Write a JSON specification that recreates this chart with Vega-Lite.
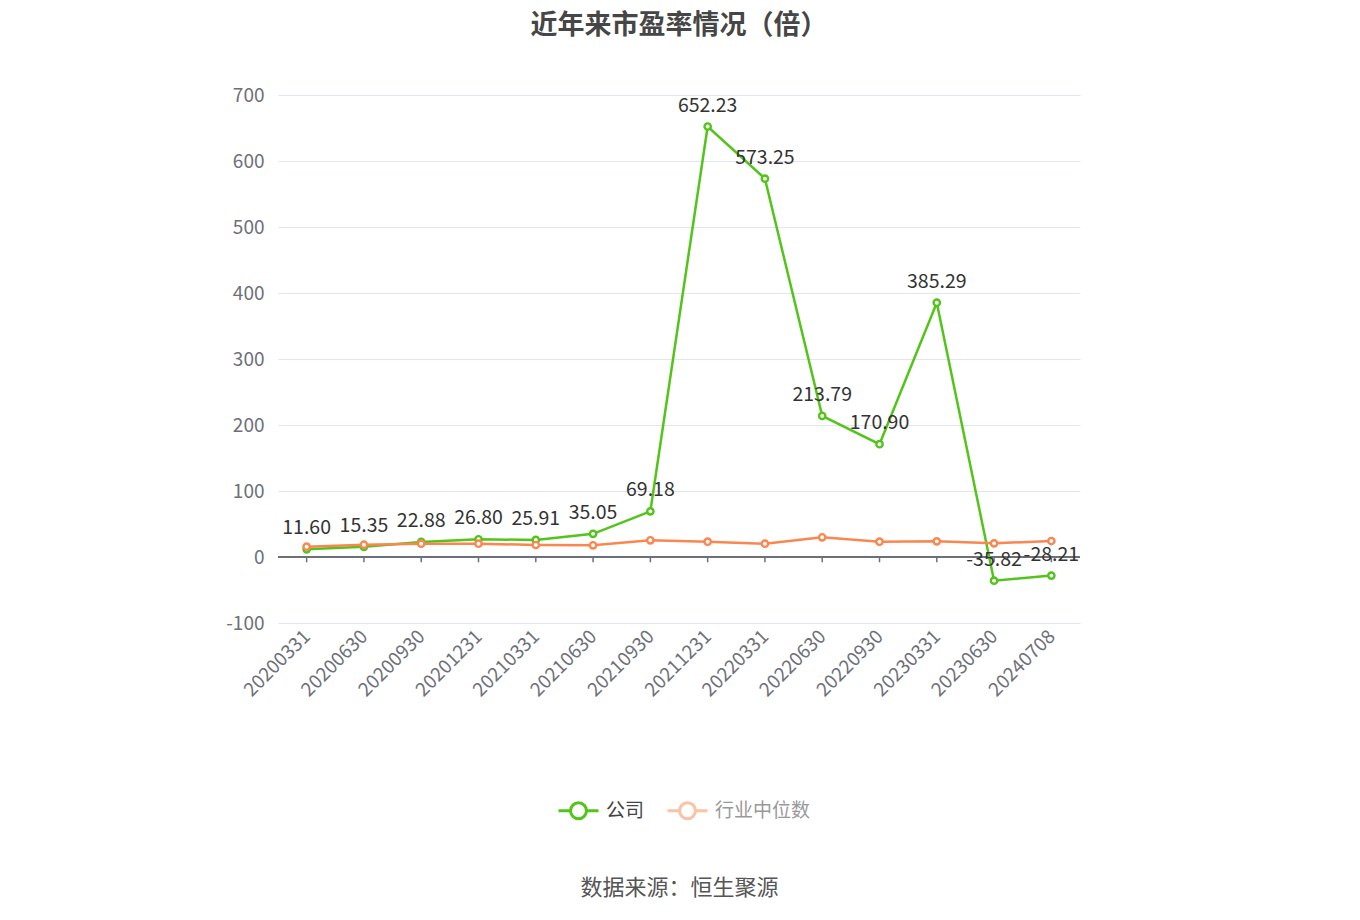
{
  "$schema": "https://vega.github.io/schema/vega-lite/v6.json",
  "autosize": {"type": "none"},
  "width": 802,
  "height": 528,
  "padding": {"left": 278, "top": 95, "right": 280, "bottom": 297},
  "background": "white",
  "title": {
    "text": "近年来市盈率情况（倍）",
    "fontSize": 27,
    "fontWeight": "bold",
    "color": "#464646",
    "font": "Noto Sans CJK SC",
    "anchor": "middle",
    "offset": 46
  },
  "data": {
    "values": [
      {"date": "20200331", "series": "公司", "value": 11.60},
      {"date": "20200630", "series": "公司", "value": 15.35},
      {"date": "20200930", "series": "公司", "value": 22.88},
      {"date": "20201231", "series": "公司", "value": 26.80},
      {"date": "20210331", "series": "公司", "value": 25.91},
      {"date": "20210630", "series": "公司", "value": 35.05},
      {"date": "20210930", "series": "公司", "value": 69.18},
      {"date": "20211231", "series": "公司", "value": 652.23},
      {"date": "20220331", "series": "公司", "value": 573.25},
      {"date": "20220630", "series": "公司", "value": 213.79},
      {"date": "20220930", "series": "公司", "value": 170.90},
      {"date": "20230331", "series": "公司", "value": 385.29},
      {"date": "20230630", "series": "公司", "value": -35.82},
      {"date": "20240708", "series": "公司", "value": -28.21},
      {"date": "20200331", "series": "行业中位数", "value": 15.6},
      {"date": "20200630", "series": "行业中位数", "value": 18.6},
      {"date": "20200930", "series": "行业中位数", "value": 20.2},
      {"date": "20201231", "series": "行业中位数", "value": 20.2},
      {"date": "20210331", "series": "行业中位数", "value": 18.2},
      {"date": "20210630", "series": "行业中位数", "value": 17.7},
      {"date": "20210930", "series": "行业中位数", "value": 25.3},
      {"date": "20211231", "series": "行业中位数", "value": 23.2},
      {"date": "20220331", "series": "行业中位数", "value": 20.2},
      {"date": "20220630", "series": "行业中位数", "value": 29.8},
      {"date": "20220930", "series": "行业中位数", "value": 23.2},
      {"date": "20230331", "series": "行业中位数", "value": 23.7},
      {"date": "20230630", "series": "行业中位数", "value": 20.7},
      {"date": "20240708", "series": "行业中位数", "value": 24.2}
    ]
  },
  "encoding": {
    "x": {
      "field": "date",
      "type": "ordinal",
      "scale": {"type": "point", "padding": 0.5},
      "axis": {
        "labelAngle": -45,
        "labelAlign": "right",
        "labelBaseline": "middle",
        "labelFontSize": 19,
        "labelColor": "#6E7079",
        "labelPadding": 10,
        "domain": false,
        "ticks": false,
        "grid": false,
        "title": "数据来源：恒生聚源",
        "titleFontSize": 22,
        "titleFontWeight": "normal",
        "titleColor": "#555555",
        "titlePadding": 178
      }
    },
    "y": {
      "field": "value",
      "type": "quantitative",
      "scale": {"domain": [-100, 700], "nice": false, "zero": false},
      "axis": {
        "values": [-100, 0, 100, 200, 300, 400, 500, 600, 700],
        "title": null,
        "domain": false,
        "ticks": false,
        "labelFontSize": 19,
        "labelColor": "#6E7079",
        "labelPadding": 14,
        "gridColor": "#E0E6F1"
      }
    }
  },
  "layer": [
    {
      "mark": {"type": "rule", "color": "#6E7079", "strokeWidth": 1.5},
      "encoding": {"x": null, "y": {"datum": 0}}
    },
    {
      "transform": [{"filter": "datum.series === '公司'"}],
      "mark": {"type": "rule", "color": "#6E7079", "strokeWidth": 1.5},
      "encoding": {"y": {"datum": 0}, "y2": {"datum": -8}}
    },
    {
      "transform": [{"filter": "datum.series === '公司'"}],
      "mark": {"type": "line", "strokeWidth": 2.5},
      "encoding": {
        "color": {
          "field": "series",
          "type": "nominal",
          "scale": {"domain": ["公司", "行业中位数"], "range": ["#52C41A", "#FA8650"]},
          "legend": {
            "title": null,
            "orient": "none",
            "direction": "horizontal",
            "legendX": 279,
            "legendY": 694,
            "labelFontSize": 19,
            "labelFont": "Noto Sans CJK SC",
            "labelOffset": 6,
            "columnPadding": 16,
            "symbolType": "M-1,0L-0.4,0M0.4,0L1,0M0.4,0A0.4,0.4,0,1,1,-0.4,0A0.4,0.4,0,1,1,0.4,0Z",
            "symbolSize": 1600,
            "symbolStrokeWidth": 3,
            "symbolFillColor": "white",
            "encode": {
              "labels": {"update": {"fill": {"signal": "datum.value === '公司' ? '#444444' : '#999999'"}}},
              "symbols": {"update": {"fill": {"value": "white"}, "opacity": {"signal": "datum.value === '公司' ? 1 : 0.5"}}}
            }
          }
        }
      }
    },
    {
      "transform": [{"filter": "datum.series === '公司'"}],
      "mark": {"type": "point", "filled": false, "fill": "white", "strokeWidth": 2.4, "size": 40, "opacity": 1},
      "encoding": {"color": {"field": "series", "type": "nominal"}}
    },
    {
      "transform": [{"filter": "datum.series === '行业中位数'"}],
      "mark": {"type": "line", "strokeWidth": 2.5},
      "encoding": {"color": {"field": "series", "type": "nominal"}}
    },
    {
      "transform": [{"filter": "datum.series === '行业中位数'"}],
      "mark": {"type": "point", "filled": false, "fill": "white", "strokeWidth": 2.4, "size": 40, "opacity": 1},
      "encoding": {"color": {"field": "series", "type": "nominal"}}
    },
    {
      "transform": [{"filter": "datum.series === '公司'"}],
      "mark": {"type": "text", "baseline": "bottom", "dy": -11, "fontSize": 19.5, "color": "#333333"},
      "encoding": {"text": {"field": "value", "type": "quantitative", "format": ".2f"}}
    }
  ],
  "config": {
    "font": "Noto Sans CJK SC",
    "view": {"stroke": null},
    "locale": {
      "number": {"decimal": ".", "thousands": ",", "grouping": [3], "currency": ["", ""], "minus": "-"}
    }
  }
}
